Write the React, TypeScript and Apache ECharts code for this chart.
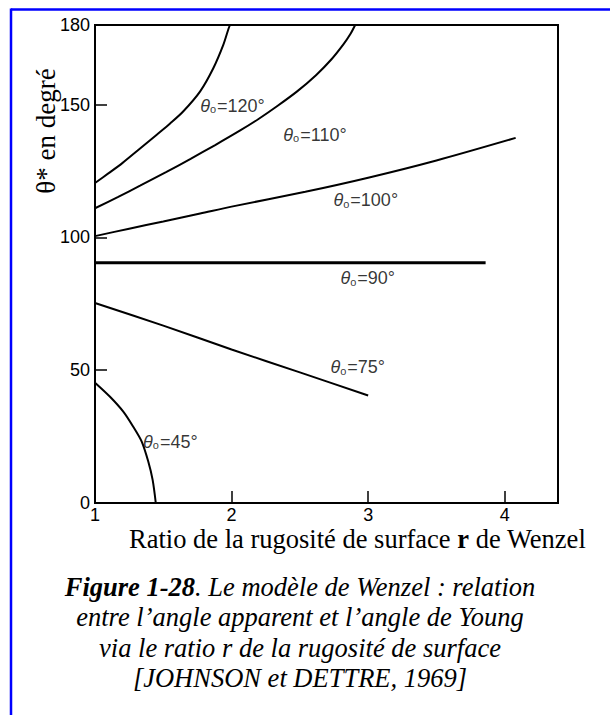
import React, { useEffect, useRef } from "react";
import * as echarts from "echarts";

// Roughness ratio r (x) and apparent angle θ* (y)
const r120 = [1, 1.1, 1.2, 1.33, 1.45, 1.55, 1.647, 1.77, 1.867, 1.94, 1.977, 1.988];
const t120 = [120.5, 124.2, 128, 133.5, 138.6, 142.9, 147.5, 155, 163.8, 172.6, 178.5, 180];

const r110 = [1, 1.17, 1.33, 1.52, 1.7, 1.88, 2.06, 2.2, 2.33, 2.48, 2.62, 2.73, 2.82, 2.87, 2.905];
const t110 = [111, 115.3, 119.5, 124.6, 129.6, 134.8, 140.2, 144.7, 149.3, 155, 161.2, 167, 172.8, 176.6, 180];

const r100 = [1, 1.25, 1.5, 1.77, 2, 2.54, 3, 3.5, 4.08];
const t100 = [100.5, 103.3, 106, 109, 111.6, 117.2, 122.5, 129, 137.5];

const r90 = [1, 3.86];
const t90 = [90.5, 90.5];

const r75 = [1, 1.5, 2, 2.5, 3];
const t75 = [75.3, 66.8, 57.8, 49.2, 40.5];

const r45 = [1, 1.11, 1.207, 1.28, 1.342, 1.39, 1.422, 1.445];
const t45 = [45.3, 40, 34.4, 28.7, 23.1, 15.6, 8.7, 0];

// Curve labels (θo values) and their anchor points
const curveAngles = ["120°", "110°", "100°", "90°", "75°", "45°"];
const labelR = [1.77, 2.379, 2.746, 2.797, 2.724, 1.352];
const labelT = [149.5, 138.7, 114.1, 84.7, 51.2, 23];

const xMin = 1;
const xMax = 4.39;
const xInterval = 1;
const yMin = 0;
const yMax = 180;
const yInterval = 50;

const yTitle = "θ* en degré";
const xTitleA = "Ratio de la rugosité de surface ";
const xTitleB = "r";
const xTitleC = " de Wenzel";
const captionBold = "Figure 1-28";
const captionLines = [
  ". Le modèle de Wenzel : relation",
  "entre l’angle apparent et l’angle de Young",
  "via le ratio r de la rugosité de surface",
  "[JOHNSON et DETTRE, 1969]",
];

const zip = (xs: number[], ys: number[]) => xs.map((x, i) => [x, ys[i]]);

export default function App() {
  const ref = useRef<HTMLDivElement>(null);
  useEffect(() => {
    if (!ref.current) return;
    const chart = echarts.init(ref.current, null, { renderer: "svg" });
    const lineSeries = (name: string, xs: number[], ys: number[], w = 2) => ({
      type: "line",
      name,
      data: zip(xs, ys),
      showSymbol: false,
      symbol: "none",
      smooth: 0.3,
      silent: true,
      lineStyle: { color: "#000", width: w },
    });
    const serif = "'Liberation Serif', 'Times New Roman', serif";
    const sans = "'Liberation Sans', Arial, sans-serif";
    const capFont = 26.5;
    const option: any = {
      animation: false,
      backgroundColor: "#ffffff",
      grid: {
        left: 95,
        top: 25,
        width: 463,
        height: 478,
        show: true,
        borderColor: "#000",
        borderWidth: 2,
        containLabel: false,
      },
      xAxis: {
        type: "value",
        min: xMin,
        max: xMax,
        interval: xInterval,
        axisLine: { show: true, onZero: false, lineStyle: { color: "#000", width: 2 } },
        axisTick: { show: true, inside: true, length: 12, lineStyle: { color: "#000", width: 1.5 } },
        axisLabel: {
          show: true,
          showMaxLabel: false,
          margin: 3,
          fontFamily: sans,
          fontSize: 18,
          color: "#000",
        },
        splitLine: { show: false },
      },
      yAxis: {
        type: "value",
        min: yMin,
        max: yMax,
        interval: yInterval,
        axisLine: { show: true, onZero: false, lineStyle: { color: "#000", width: 2 } },
        axisTick: { show: true, inside: true, length: 12, lineStyle: { color: "#000", width: 1.5 } },
        axisLabel: {
          show: true,
          showMaxLabel: true,
          margin: 5,
          fontFamily: sans,
          fontSize: 18,
          color: "#000",
        },
        splitLine: { show: false },
      },
      series: [
        lineSeries("120", r120, t120),
        lineSeries("110", r110, t110),
        lineSeries("100", r100, t100),
        lineSeries("90", r90, t90, 3),
        lineSeries("75", r75, t75),
        lineSeries("45", r45, t45),
        {
          type: "scatter",
          silent: true,
          symbolSize: 0,
          data: labelR.map((x, i) => [x, labelT[i], curveAngles[i]]),
          label: {
            show: true,
            position: "right",
            distance: 0,
            color: "#000",
            formatter: (p: any) => `{th|θ}{sub|o}{eq|=${p.data[2]}}`,
            rich: {
              th: { fontFamily: sans, fontStyle: "italic", fontSize: 18, color: "#000" },
              sub: {
                fontFamily: sans,
                fontSize: 11,
                color: "#000",
                verticalAlign: "bottom",
                padding: [0, 1, 0, 0],
              },
              eq: { fontFamily: sans, fontSize: 18, color: "#000" },
            },
          },
        },
      ],
      graphic: [
        {
          type: "line",
          silent: true,
          shape: { x1: 11, y1: 9.5, x2: 610, y2: 9.5 },
          style: { stroke: "#0000ff", lineWidth: 2.5 },
        },
        {
          type: "line",
          silent: true,
          shape: { x1: 11, y1: 8.5, x2: 11, y2: 715 },
          style: { stroke: "#0000ff", lineWidth: 2.5 },
        },
        {
          type: "text",
          silent: true,
          x: 46,
          y: 131,
          rotation: Math.PI / 2,
          style: {
            text: yTitle,
            fontFamily: serif,
            fontSize: 27,
            fill: "#000",
            align: "center",
            verticalAlign: "middle",
          },
        },
        {
          type: "text",
          silent: true,
          x: 357.5,
          y: 539,
          style: {
            text: `{n|${xTitleA}}{b|${xTitleB}}{n|${xTitleC}}`,
            align: "center",
            verticalAlign: "middle",
            rich: {
              n: { fontFamily: serif, fontSize: capFont, fill: "#000" },
              b: { fontFamily: serif, fontSize: capFont, fontWeight: "bold", fill: "#000" },
            },
          },
        },
        {
          type: "text",
          silent: true,
          x: 300,
          y: 587,
          style: {
            text: `{b|${captionBold}}{i|${captionLines[0]}}`,
            align: "center",
            verticalAlign: "middle",
            rich: {
              b: { fontFamily: serif, fontSize: capFont, fontWeight: "bold", fontStyle: "italic", fill: "#000" },
              i: { fontFamily: serif, fontSize: capFont, fontStyle: "italic", fill: "#000" },
            },
          },
        },
        ...[1, 2, 3].map((k) => ({
          type: "text",
          silent: true,
          x: 300,
          y: 587 + k * 30.4,
          style: {
            text: captionLines[k],
            fontFamily: serif,
            fontSize: capFont,
            fontStyle: "italic",
            fill: "#000",
            align: "center",
            verticalAlign: "middle",
          },
        })),
      ],
    };
    chart.setOption(option);
    return () => chart.dispose();
  }, []);
  return (
    <div
      ref={ref}
      style={{ position: "absolute", left: 0, top: 0, width: 610, height: 715 }}
    />
  );
}
